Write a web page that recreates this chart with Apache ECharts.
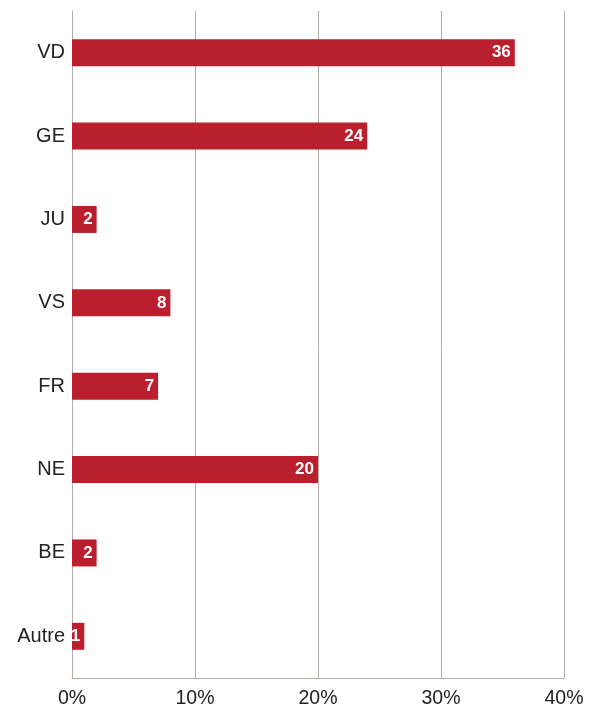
<!DOCTYPE html>
<html>
<head>
<meta charset="utf-8">
<script src="https://cdn.jsdelivr.net/npm/echarts@6/dist/echarts.min.js"></script>
<style>html,body{margin:0;padding:0;background:#fff}#c{width:594px;height:711px}</style>
</head>
<body>
<div id="c"></div>
<script>
const categories = ["VD", "GE", "JU", "VS", "FR", "NE", "BE", "Autre"];
const values = [36, 24, 2, 8, 7, 20, 2, 1];
const xTicks = [0, 10, 20, 30, 40];

const chart = echarts.init(document.getElementById('c'), null, {renderer: 'canvas'});
const lineColor = '#b5aba3';
const font = 'Liberation Sans, Arial, sans-serif';
chart.setOption({
  animation: false,
  grid: {left: 72, right: 30, top: 11, bottom: 33, containLabel: false},
  xAxis: {
    type: 'value', min: xTicks[0], max: xTicks[xTicks.length - 1], interval: 10,
    axisLine: {show: true, lineStyle: {color: lineColor, width: 1}},
    axisTick: {show: false},
    splitLine: {show: true, lineStyle: {color: lineColor, width: 1}},
    axisLabel: {color: '#222', fontSize: 19.5, fontFamily: font, margin: 11, formatter: v => v + '%'}
  },
  yAxis: {
    type: 'category', data: categories, inverse: true,
    axisLine: {show: true, lineStyle: {color: lineColor, width: 1}},
    axisTick: {show: false},
    axisLabel: {color: '#222', fontSize: 20, fontFamily: font, margin: 7}
  },
  series: [{
    type: 'bar', data: values, barWidth: 27,
    itemStyle: {color: '#ba1f2d'},
    label: {show: true, position: 'insideRight', distance: 4, color: '#fff', fontSize: 17, fontWeight: 'bold', fontFamily: font}
  }]
});
</script>
</body>
</html>
